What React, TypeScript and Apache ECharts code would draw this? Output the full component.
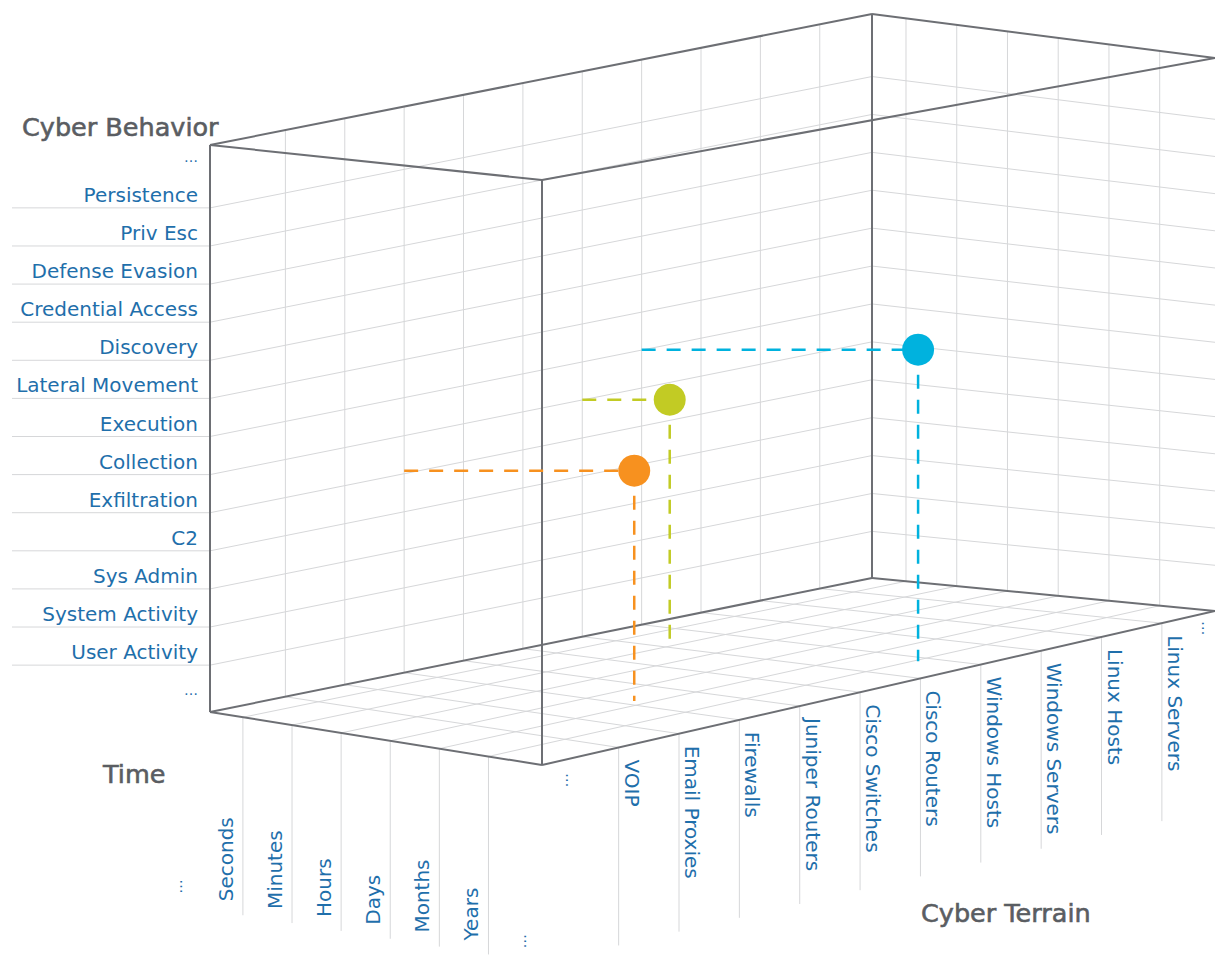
import React, { useEffect, useRef } from "react";
import * as echarts from "echarts";

// ---------------- data ----------------
const behaviorLabels = [
  "…",
  "Persistence",
  "Priv Esc",
  "Defense Evasion",
  "Credential Access",
  "Discovery",
  "Lateral Movement",
  "Execution",
  "Collection",
  "Exfiltration",
  "C2",
  "Sys Admin",
  "System Activity",
  "User Activity",
  "…",
];
const timeLabels = ["…", "Seconds", "Minutes", "Hours", "Days", "Months", "Years", "…"];
const terrainLabels = [
  "…",
  "VOIP",
  "Email Proxies",
  "Firewalls",
  "Juniper Routers",
  "Cisco Switches",
  "Cisco Routers",
  "Windows Hosts",
  "Windows Servers",
  "Linux Hosts",
  "Linux Servers",
  "…",
];

// three observations: time, terrain, behavior (category index units)
const pointTime = [4.74, 2.09, 6.08];
const pointTerrain = [3.19, 5.99, 6.8];
const pointBehavior = [8.24, 7.71, 6.02];
const pointGuideTerrain = [3, 6, 7];
const pointColors = ["#f7911f", "#c2cb24", "#00b2de"];

// ---------------- axis extents ----------------
const TIME_MIN = 0.33;
const TIME_MAX = 7.09;
const TERRAIN_MIN = -0.27;
const TERRAIN_MAX = 10.88;
const BEHAVIOR_MIN = -0.65;
const BEHAVIOR_MAX = 14.23;

// ---------------- layout of the projected box (px) ----------------
// order: (tMin,rMin) (tMax,rMin) (tMin,rMax) (tMax,rMax)
const BOX_TOP = [
  [210, 145],
  [542, 180],
  [872, 14],
  [1215, 58],
];
const BOX_BOTTOM = [
  [210, 712],
  [542, 765],
  [872, 578],
  [1215, 611],
];
const LEFT_RULE_X = 12;
const TICK_LEN = 198;
const RIGHT_LIMIT = 1207;

const FONT = '"DejaVu Sans", "Noto Sans", sans-serif';
const GRID = "#d6d7d9";
const EDGE = "#6d6f74";
const LABEL = "#1f6fab";
const TITLE = "#5a5d62";

function bilerp(c: number[][], u: number, v: number) {
  const a = (1 - u) * (1 - v);
  const b = u * (1 - v);
  const cc = (1 - u) * v;
  const d = u * v;
  return [
    c[0][0] * a + c[1][0] * b + c[2][0] * cc + c[3][0] * d,
    c[0][1] * a + c[1][1] * b + c[2][1] * cc + c[3][1] * d,
  ];
}

function proj(t: number, r: number, b: number) {
  const u = (t - TIME_MIN) / (TIME_MAX - TIME_MIN);
  const v = (r - TERRAIN_MIN) / (TERRAIN_MAX - TERRAIN_MIN);
  const w = (b - BEHAVIOR_MIN) / (BEHAVIOR_MAX - BEHAVIOR_MIN);
  const top = bilerp(BOX_TOP, u, v);
  const bot = bilerp(BOX_BOTTOM, u, v);
  return [top[0] + (bot[0] - top[0]) * w, top[1] + (bot[1] - top[1]) * w];
}

function seg(p: number[], q: number[], stroke: string, lineWidth: number, lineDash?: number[]) {
  return {
    type: "line",
    shape: { x1: p[0], y1: p[1], x2: q[0], y2: q[1] },
    style: { stroke, lineWidth, lineDash: lineDash || null, fill: null },
    silent: true,
  };
}

function label(text: string, x: number, y: number, rotation: number, align: string) {
  const dots = text === "…";
  return {
    type: "text",
    x,
    y,
    rotation,
    silent: true,
    style: {
      text,
      fill: LABEL,
      fontSize: dots ? 14 : 20,
      fontFamily: FONT,
      align,
      verticalAlign: "middle",
    },
  };
}

function behaviorItem(params: any, api: any) {
  const i = params.dataIndex;
  const b = api.value(0);
  const name = behaviorLabels[i];
  const a = proj(TIME_MIN, TERRAIN_MIN, b);
  const children: any[] = [];
  if (name !== "…") {
    const c = proj(TIME_MIN, TERRAIN_MAX, b);
    const d = proj(TIME_MAX, TERRAIN_MAX, b);
    children.push(seg([LEFT_RULE_X, a[1]], a, GRID, 1));
    children.push(seg(a, c, GRID, 1));
    children.push(seg(c, d, GRID, 1));
  }
  children.push(label(name, a[0] - 12, a[1] - 13, 0, "right"));
  return { type: "group", children };
}

function timeItem(params: any, api: any) {
  const i = params.dataIndex;
  const t = api.value(0);
  const name = timeLabels[i];
  const e = proj(t, TERRAIN_MIN, BEHAVIOR_MAX);
  const children: any[] = [];
  if (name !== "…") {
    children.push(seg(proj(t, TERRAIN_MAX, BEHAVIOR_MIN), proj(t, TERRAIN_MAX, BEHAVIOR_MAX), GRID, 1));
    children.push(seg(e, proj(t, TERRAIN_MAX, BEHAVIOR_MAX), GRID, 1));
    children.push(seg(e, [e[0], e[1] + TICK_LEN], GRID, 1));
  }
  children.push(label(name, e[0] - 17, e[1] + 184, Math.PI / 2, "left"));
  return { type: "group", children };
}

function terrainItem(params: any, api: any) {
  const i = params.dataIndex;
  const r = api.value(0);
  const name = terrainLabels[i];
  const e = proj(TIME_MAX, r, BEHAVIOR_MAX);
  const children: any[] = [];
  if (name !== "…") {
    children.push(seg(proj(TIME_MIN, r, BEHAVIOR_MIN), proj(TIME_MIN, r, BEHAVIOR_MAX), GRID, 1));
    children.push(seg(proj(TIME_MIN, r, BEHAVIOR_MAX), e, GRID, 1));
    children.push(seg(e, [e[0], e[1] + TICK_LEN], GRID, 1));
  }
  children.push(label(name, Math.min(e[0] + 13, RIGHT_LIMIT), e[1] + 12, -Math.PI / 2, "left"));
  return { type: "group", children };
}

function boxItem() {
  const T = [TIME_MIN, TIME_MAX];
  const R = [TERRAIN_MIN, TERRAIN_MAX];
  const children: any[] = [];
  for (const b of [BEHAVIOR_MIN, BEHAVIOR_MAX]) {
    children.push(seg(proj(T[0], R[0], b), proj(T[1], R[0], b), EDGE, 2));
    children.push(seg(proj(T[0], R[0], b), proj(T[0], R[1], b), EDGE, 2));
    children.push(seg(proj(T[1], R[0], b), proj(T[1], R[1], b), EDGE, 2));
    children.push(seg(proj(T[0], R[1], b), proj(T[1], R[1], b), EDGE, 2));
  }
  children.push(seg(proj(T[0], R[0], BEHAVIOR_MIN), proj(T[0], R[0], BEHAVIOR_MAX), EDGE, 2));
  children.push(seg(proj(T[1], R[0], BEHAVIOR_MIN), proj(T[1], R[0], BEHAVIOR_MAX), EDGE, 2));
  children.push(seg(proj(T[0], R[1], BEHAVIOR_MIN), proj(T[0], R[1], BEHAVIOR_MAX), EDGE, 2));
  return { type: "group", children };
}

function pointItem(params: any, api: any) {
  const t = api.value(0);
  const r = api.value(1);
  const b = api.value(2);
  const g = api.value(3);
  const color = pointColors[params.dataIndex];
  const p = proj(t, r, b);
  const floor = proj(t, r, BEHAVIOR_MAX);
  const gx = proj(TIME_MIN, g, b)[0];
  return {
    type: "group",
    children: [
      seg([gx, p[1]], p, color, 2.5, [14, 11]),
      seg(p, floor, color, 2.5, [14, 11]),
      { type: "circle", shape: { cx: p[0], cy: p[1], r: 16 }, style: { fill: color }, silent: true },
    ],
  };
}

function title(text: string, x: number, y: number) {
  return {
    type: "text",
    x,
    y,
    silent: true,
    style: {
      text,
      fill: TITLE,
      stroke: TITLE,
      lineWidth: 0.6,
      fontSize: 25.5,
      fontFamily: FONT,
      align: "left",
      verticalAlign: "middle",
    },
  };
}

export default function App() {
  const ref = useRef<HTMLDivElement>(null);
  useEffect(() => {
    if (!ref.current) return;
    const chart = echarts.init(ref.current, null, { renderer: "svg" });
    chart.setOption({
      animation: false,
      backgroundColor: "#ffffff",
      graphic: [
        title("Cyber Behavior", 22, 127),
        title("Time", 103, 774),
        title("Cyber Terrain", 921, 913),
      ],
      series: [
        {
          type: "custom",
          name: "behavior",
          coordinateSystem: "none",
          silent: true,
          z: 1,
          data: behaviorLabels.map((_, i) => [i]),
          renderItem: behaviorItem,
        },
        {
          type: "custom",
          name: "time",
          coordinateSystem: "none",
          silent: true,
          z: 1,
          data: timeLabels.map((_, i) => [i]),
          renderItem: timeItem,
        },
        {
          type: "custom",
          name: "terrain",
          coordinateSystem: "none",
          silent: true,
          z: 1,
          data: terrainLabels.map((_, i) => [i]),
          renderItem: terrainItem,
        },
        {
          type: "custom",
          name: "box",
          coordinateSystem: "none",
          silent: true,
          z: 2,
          data: [[0]],
          renderItem: boxItem,
        },
        {
          type: "custom",
          name: "observations",
          coordinateSystem: "none",
          silent: true,
          z: 3,
          data: pointTime.map((t, i) => [t, pointTerrain[i], pointBehavior[i], pointGuideTerrain[i]]),
          renderItem: pointItem,
        },
      ],
    });
    return () => chart.dispose();
  }, []);
  return (
    <div
      ref={ref}
      style={{ position: "absolute", left: 0, top: 0, width: "1215px", height: "956px" }}
    />
  );
}
